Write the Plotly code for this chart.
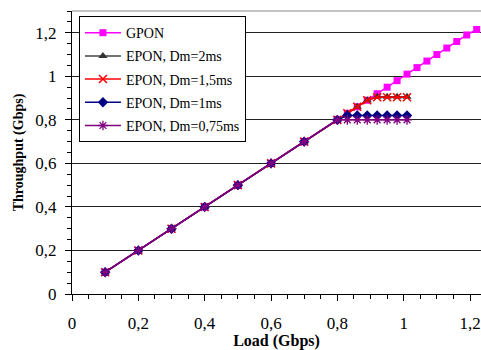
import plotly.graph_objects as go

# ---- data ----
gpon_load = [0.1, 0.2, 0.3, 0.4, 0.5, 0.6, 0.7, 0.8, 0.83, 0.86, 0.89, 0.92, 0.95,
             0.98, 1.01, 1.04, 1.07, 1.10, 1.13, 1.16, 1.19, 1.22]
gpon_thr = [0.1, 0.2, 0.3, 0.4, 0.5, 0.6, 0.7, 0.8, 0.83, 0.86, 0.89, 0.92, 0.95,
            0.98, 1.01, 1.04, 1.07, 1.10, 1.13, 1.16, 1.19, 1.215]

epon_load = [0.1, 0.2, 0.3, 0.4, 0.5, 0.6, 0.7, 0.8, 0.83, 0.86, 0.89, 0.92, 0.95, 0.98, 1.01]
epon_2ms = [0.1, 0.2, 0.3, 0.4, 0.5, 0.6, 0.7, 0.8, 0.83, 0.86, 0.89, 0.906, 0.906, 0.906, 0.906]
epon_15ms = [0.1, 0.2, 0.3, 0.4, 0.5, 0.6, 0.7, 0.8, 0.83, 0.86, 0.89, 0.904, 0.904, 0.904, 0.904]
epon_1ms = [0.1, 0.2, 0.3, 0.4, 0.5, 0.6, 0.7, 0.8, 0.82, 0.82, 0.82, 0.82, 0.82, 0.82, 0.82]
epon_075ms = [0.1, 0.2, 0.3, 0.4, 0.5, 0.6, 0.7, 0.8, 0.8, 0.8, 0.8, 0.8, 0.8, 0.8, 0.8]

tick_vals = [0, 0.2, 0.4, 0.6, 0.8, 1.0, 1.2]
tick_text = ["0", "0,2", "0,4", "0,6", "0,8", "1", "1,2"]

FONT = "Times New Roman, Liberation Serif, serif"

fig = go.Figure()

fig.add_trace(go.Scatter(
    x=gpon_load, y=gpon_thr, name="GPON", mode="lines+markers", legendgroup="a",
    line=dict(color="#FF00FF", width=1.5),
    marker=dict(symbol="square", size=7, color="#FF00FF")))
fig.add_trace(go.Scatter(
    x=epon_load, y=epon_2ms, name="EPON, Dm=2ms", mode="lines+markers", legendgroup="b",
    line=dict(color="#444444", width=1.5),
    marker=dict(symbol="triangle-up", size=8, color="#333333")))
fig.add_trace(go.Scatter(
    x=epon_load, y=epon_15ms, name="EPON, Dm=1,5ms", mode="lines+markers", legendgroup="c",
    line=dict(color="#FF0000", width=1.5),
    marker=dict(symbol="x-thin", size=8, color="#FF0000",
                line=dict(color="#FF0000", width=1.5))))
fig.add_trace(go.Scatter(
    x=epon_load, y=epon_1ms, name="EPON, Dm=1ms", mode="lines+markers", legendgroup="d",
    line=dict(color="#000080", width=1.5),
    marker=dict(symbol="diamond", size=8, color="#000080")))
fig.add_trace(go.Scatter(
    x=epon_load, y=epon_075ms, name="EPON, Dm=0,75ms", mode="lines+markers", legendgroup="e",
    line=dict(color="#800080", width=1.5),
    marker=dict(symbol="asterisk", size=8, color="#800080",
                line=dict(color="#800080", width=1.3))))

fig.update_layout(
    width=481, height=350,
    margin=dict(l=72, r=0, t=11, b=56),
    paper_bgcolor="white", plot_bgcolor="white",
    font=dict(family=FONT, size=15, color="black"),
    showlegend=True,
    legend=dict(
        x=0.017, y=0.982, xanchor="left", yanchor="top",
        bordercolor="black", borderwidth=1, bgcolor="white",
        font=dict(family=FONT, size=14, color="black"),
        tracegroupgap=2, itemwidth=36,
    ),
    shapes=[dict(type="line", xref="paper", yref="paper", x0=0, x1=1, y0=1, y1=1,
                 line=dict(color="#888888", width=1))],
)

fig.update_xaxes(
    range=[0, 1.233], showgrid=False, zeroline=False, automargin=False,
    showline=True, linecolor="black", linewidth=1,
    tickmode="array", tickvals=tick_vals, ticktext=tick_text,
    ticks="outside", ticklen=6, tickcolor="black", tickwidth=1,
    minor=dict(dtick=0.05, tick0=0, ticks="outside", ticklen=4, tickcolor="black", showgrid=False),
    ticklabelstandoff=8,
    tickfont=dict(family=FONT, size=17),
    title=dict(text="<b>Load (Gbps)</b>", font=dict(family=FONT, size=16), standoff=1),
)
fig.update_yaxes(
    range=[0, 1.3], showgrid=True, gridcolor="#222222", gridwidth=1, zeroline=False,
    automargin=False,
    showline=True, linecolor="black", linewidth=1,
    tickmode="array", tickvals=tick_vals, ticktext=tick_text,
    ticks="outside", ticklen=6, tickcolor="black", tickwidth=1,
    minor=dict(dtick=0.05, tick0=0, ticks="outside", ticklen=4, tickcolor="black", showgrid=False),
    ticklabelstandoff=5,
    tickfont=dict(family=FONT, size=17),
    title=dict(text="<b>Throughput (Gbps)</b>", font=dict(family=FONT, size=14), standoff=8),
)

fig.write_html("out.html", config={"displayModeBar": False},
               post_script="document.body.style.margin='0px';")
